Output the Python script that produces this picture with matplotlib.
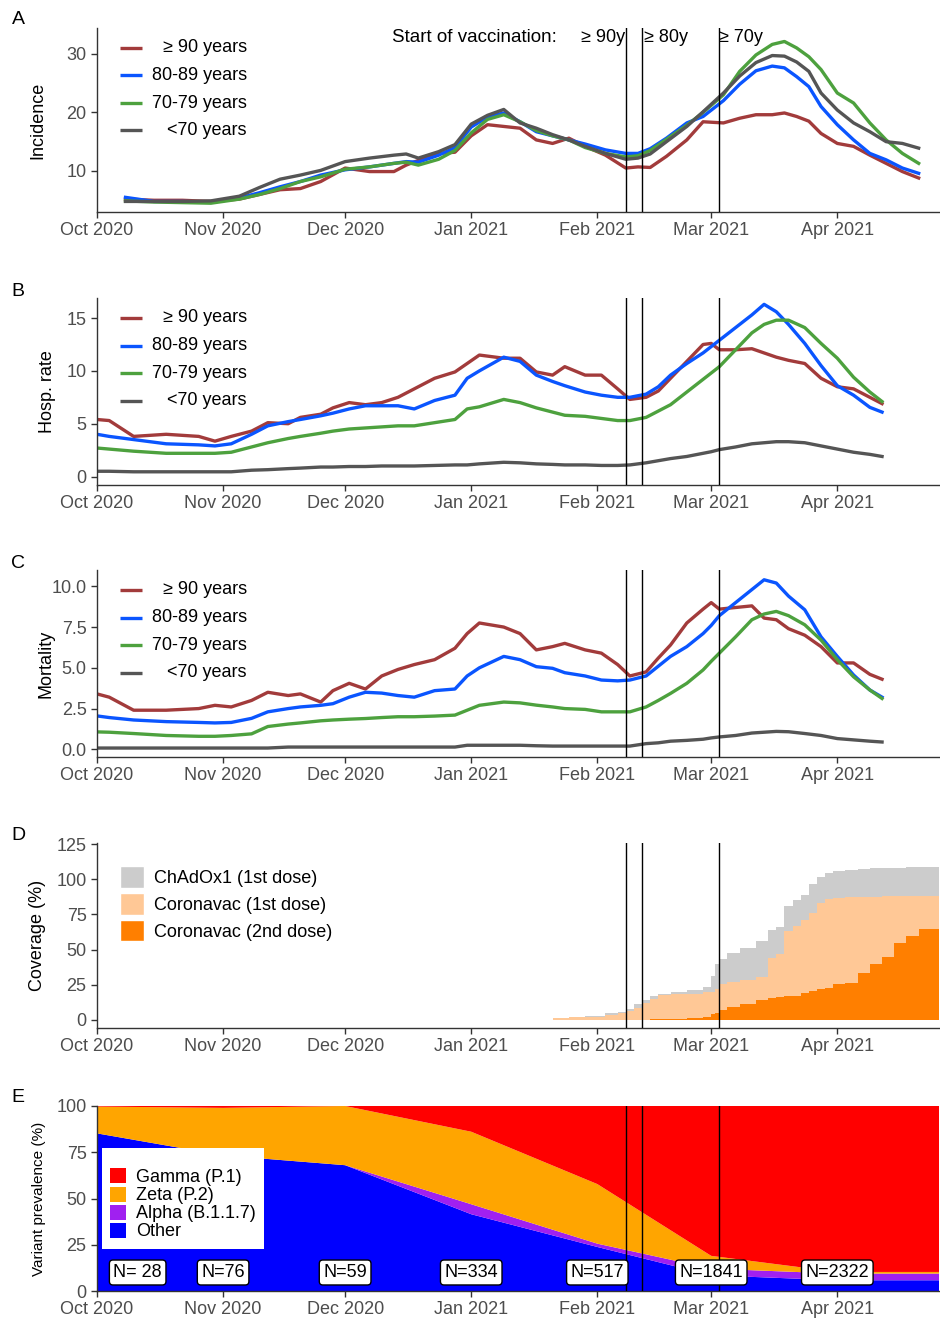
import pandas as pd
import matplotlib
matplotlib.use('Agg')
import matplotlib.pyplot as plt
from matplotlib.patches import Patch

plt.rcParams['font.family'] = ['Liberation Sans', 'DejaVu Sans']

# 日付の基準
START = pd.Timestamp('2020-10-01')
X_END = pd.Timestamp('2021-04-26')


def to_dates(day_list):
    return START + pd.to_timedelta(day_list, unit='D')


# ---- 年齢別の系列 ----
age_labels = ['\u2265 90 years', '80-89 years', '70-79 years', '<70 years']
age_colors = ['#A23B3B', '#0A55FF', '#4DA13E', '#555555']

# A: Incidence (days since 1 Oct 2020)
inc_days = [7, 14, 21, 28, 35, 40, 45, 50, 55, 61, 67, 73, 76, 79, 84,
            88, 92, 96, 100, 104, 108, 112, 116, 120, 125, 130, 133, 136, 140, 145,
            149, 154, 158, 162, 166, 169, 172, 175, 178, 182, 186, 190, 194, 198, 202]
inc_90 = [5.2, 5.0, 5.0, 4.8, 5.2, 6.0, 6.8, 7.0, 8.2, 10.5, 9.9, 9.9, 11.0, 11.8, 13.0,
          13.2, 16.0, 17.9, 17.6, 17.3, 15.3, 14.7, 15.6, 14.2, 12.7, 10.5, 10.7, 10.6, 12.5, 15.3,
          18.4, 18.2, 19.0, 19.6, 19.6, 19.9, 19.3, 18.5, 16.4, 14.7, 14.2, 12.7, 11.3, 9.9, 8.8]
inc_80 = [5.5, 4.8, 4.8, 4.7, 5.4, 6.3, 7.3, 8.2, 9.3, 10.2, 10.7, 11.3, 11.6, 11.5, 12.7,
          14.0, 17.5, 19.2, 19.9, 18.4, 16.7, 16.0, 15.3, 14.6, 13.6, 13.0, 13.0, 13.8, 15.6, 18.2,
          19.3, 22.0, 24.8, 27.1, 27.9, 27.6, 26.1, 24.4, 21.0, 17.9, 15.3, 13.0, 11.9, 10.5, 9.6]
inc_70 = [4.9, 4.7, 4.6, 4.5, 5.2, 6.0, 7.0, 8.2, 9.0, 10.3, 10.7, 11.3, 11.5, 11.0, 12.0,
          13.5, 16.5, 18.8, 19.6, 18.4, 16.9, 16.0, 15.3, 14.0, 13.0, 12.4, 12.6, 13.5, 15.4, 17.8,
          20.0, 23.0, 27.0, 29.8, 31.6, 32.1, 31.0, 29.5, 27.3, 23.3, 21.6, 18.2, 15.3, 13.0, 11.3]
inc_lt70 = [4.8, 4.8, 4.8, 4.9, 5.7, 7.2, 8.6, 9.3, 10.1, 11.6, 12.2, 12.7, 12.9, 12.2, 13.3,
            14.5, 18.0, 19.5, 20.5, 18.2, 17.3, 16.2, 15.3, 14.2, 13.0, 12.0, 12.2, 12.9, 15.0, 17.6,
            20.1, 23.3, 26.2, 28.5, 29.7, 29.6, 28.6, 27.0, 23.3, 20.4, 18.2, 16.7, 15.0, 14.7, 13.9]

# B / C: Hospitalisation and mortality
bc_days = [0, 3, 9, 17, 25, 29, 33, 38, 42, 47, 50, 55, 58, 62, 66, 70, 74, 78, 83, 88,
           91, 94, 100, 104, 108, 112, 115, 120, 124, 128, 131, 135, 138, 141, 145,
           149, 151, 153, 157, 161, 164, 167, 170, 174, 178, 182, 186, 190, 193]
hosp_90 = [5.4, 5.3, 3.8, 4.0, 3.8, 3.35, 3.8, 4.3, 5.1, 5.0, 5.6, 5.9, 6.5, 7.0, 6.8,
           7.0, 7.5, 8.3, 9.3, 9.9, 10.7, 11.5, 11.2, 11.2, 9.9, 9.6, 10.4, 9.6, 9.6, 8.3,
           7.3, 7.5, 8.1, 9.3, 10.9, 12.5, 12.6, 12.0, 12.0, 12.1, 11.7, 11.3, 11.0, 10.7, 9.3,
           8.5, 8.3, 7.5, 6.9]
hosp_80 = [4.0, 3.8, 3.5, 3.1, 3.0, 2.9, 3.1, 4.0, 4.8, 5.2, 5.4, 5.75, 6.0, 6.4, 6.7,
           6.7, 6.7, 6.4, 7.2, 7.7, 9.3, 10.0, 11.3, 10.9, 9.6, 9.0, 8.6, 8.0, 7.7, 7.5,
           7.5, 7.8, 8.5, 9.6, 10.7, 11.7, 12.3, 12.9, 14.1, 15.3, 16.3, 15.6, 14.4, 12.6, 10.5,
           8.6, 7.7, 6.55, 6.1]
hosp_70 = [2.7, 2.6, 2.4, 2.2, 2.2, 2.2, 2.3, 2.8, 3.2, 3.6, 3.8, 4.1, 4.3, 4.5, 4.6,
           4.7, 4.8, 4.8, 5.1, 5.4, 6.4, 6.6, 7.3, 7.0, 6.5, 6.1, 5.8, 5.7, 5.5, 5.3,
           5.3, 5.6, 6.2, 6.8, 8.0, 9.2, 9.8, 10.4, 12.0, 13.6, 14.4, 14.8, 14.8, 14.1, 12.6,
           11.2, 9.4, 8.0, 7.1]
hosp_lt70 = [0.5, 0.5, 0.45, 0.45, 0.45, 0.45, 0.45, 0.6, 0.65, 0.75, 0.8, 0.9, 0.9, 0.95, 0.95,
             1.0, 1.0, 1.0, 1.05, 1.1, 1.1, 1.2, 1.35, 1.3, 1.2, 1.15, 1.1, 1.1, 1.05, 1.05,
             1.1, 1.3, 1.5, 1.7, 1.9, 2.2, 2.35, 2.55, 2.8, 3.1, 3.2, 3.3, 3.3, 3.2, 2.9,
             2.6, 2.3, 2.1, 1.9]

mort_90 = [3.4, 3.2, 2.4, 2.4, 2.5, 2.7, 2.6, 3.0, 3.5, 3.3, 3.4, 2.9, 3.6, 4.05, 3.7,
           4.5, 4.9, 5.2, 5.5, 6.2, 7.1, 7.75, 7.5, 7.1, 6.1, 6.3, 6.5, 6.1, 5.9, 5.2,
           4.5, 4.75, 5.6, 6.4, 7.75, 8.6, 9.0, 8.6, 8.7, 8.8, 8.05, 7.95, 7.4, 7.0, 6.3,
           5.3, 5.3, 4.6, 4.3]
mort_80 = [2.05, 1.95, 1.8, 1.7, 1.65, 1.62, 1.65, 1.9, 2.3, 2.5, 2.6, 2.7, 2.8, 3.2, 3.5,
           3.45, 3.3, 3.2, 3.6, 3.7, 4.5, 5.0, 5.7, 5.5, 5.07, 4.97, 4.7, 4.5, 4.25, 4.2,
           4.25, 4.5, 5.1, 5.7, 6.3, 7.1, 7.6, 8.2, 9.0, 9.8, 10.4, 10.2, 9.4, 8.56, 6.9,
           5.7, 4.56, 3.64, 3.2]
mort_70 = [1.07, 1.05, 0.97, 0.85, 0.8, 0.8, 0.85, 0.95, 1.4, 1.55, 1.62, 1.75, 1.8, 1.85, 1.89,
           1.95, 2.0, 2.0, 2.04, 2.1, 2.4, 2.7, 2.9, 2.85, 2.71, 2.6, 2.5, 2.45, 2.3, 2.3,
           2.3, 2.6, 3.0, 3.43, 4.05, 4.87, 5.4, 5.9, 6.9, 7.95, 8.3, 8.46, 8.2, 7.64, 6.7,
           5.5, 4.45, 3.64, 3.12]
mort_lt70 = [0.08, 0.08, 0.08, 0.08, 0.08, 0.08, 0.08, 0.08, 0.08, 0.14, 0.14, 0.14, 0.14, 0.14, 0.14,
             0.14, 0.14, 0.14, 0.14, 0.14, 0.25, 0.25, 0.25, 0.25, 0.22, 0.2, 0.2, 0.2, 0.2, 0.2,
             0.2, 0.35, 0.4, 0.5, 0.55, 0.62, 0.7, 0.76, 0.85, 1.0, 1.05, 1.1, 1.08, 0.97, 0.85,
             0.66, 0.58, 0.5, 0.45]

# D: vaccine coverage (%), step data
cov_days = [112, 116, 120, 125, 128, 130, 132, 134, 136, 138, 141, 145, 149, 151, 152,
            153, 155, 158, 162, 165, 167, 169, 171, 173, 175, 177, 179, 181, 184, 187,
            190, 193, 196, 199, 202, 207]
cov_chadox = [0.0, 0.3, 0.5, 1.0, 1.0, 1.5, 2.5, 2.0, 2.0, 1.0, 2.0, 2.5, 3.5, 11.0, 18.0,
              17.5, 20.5, 22.5, 25.5, 20.0, 19.0, 18.0, 18.0, 18.0, 21.0, 19.0, 18.5, 19.0, 19.5, 20.0,
              20.2, 20.3, 20.5, 21.0, 21.0, 21.0]
cov_cv1 = [1.0, 1.5, 2.0, 3.5, 4.5, 6.0, 8.5, 12.0, 14.5, 17.5, 18.0, 18.5, 19.5, 20.0, 22.0,
           25.5, 27.0, 28.5, 30.5, 44.0, 47.0, 63.0, 67.0, 71.0, 76.0, 83.0, 86.0, 87.0, 87.5, 87.5,
           87.8, 88.0, 88.0, 88.0, 88.0, 88.0]
cov_cv2 = [0.0, 0.0, 0.0, 0.0, 0.0, 0.0, 0.0, 0.0, 0.3, 0.3, 0.5, 1.0, 1.5, 4.0, 5.0,
           6.5, 9.0, 11.0, 14.0, 15.5, 16.0, 16.5, 17.0, 19.0, 20.5, 21.5, 22.5, 25.5, 26.0, 33.0,
           40.0, 45.0, 55.0, 60.0, 64.5, 65.0]
cov_labels = ['ChAdOx1 (1st dose)', 'Coronavac (1st dose)', 'Coronavac (2nd dose)']
cov_colors = ['#CCCCCC', '#FFC896', '#FF7F00']

# E: variant prevalence (%)
var_dates = pd.to_datetime(['2020-10-01', '2020-11-01', '2020-12-01', '2021-01-01',
                            '2021-02-01', '2021-03-01', '2021-04-01', '2021-04-26'])
var_other = [85.2, 73.3, 68.0, 41.5, 23.8, 8.5, 5.8, 5.8]
var_alpha = [0.0, 0.0, 0.0, 5.4, 1.8, 3.6, 3.6, 3.6]
var_zeta = [14.5, 25.7, 32.0, 39.2, 32.2, 6.9, 0.9, 0.9]
var_gamma = [0.3, 1.0, 0.0, 13.9, 42.2, 81.0, 89.7, 89.7]
var_labels = ['Gamma (P.1)', 'Zeta (P.2)', 'Alpha (B.1.1.7)', 'Other']
var_colors = ['#FF0000', '#FFA500', '#A020F0', '#0000FF']
n_dates = pd.to_datetime(['2020-10-11', '2020-11-01', '2020-12-01', '2021-01-01',
                          '2021-02-01', '2021-03-01', '2021-04-01'])
n_labels = ['N= 28', 'N=76', 'N=59', 'N=334', 'N=517', 'N=1841', 'N=2322']

# 接種開始日
vax_dates = pd.to_datetime(['2021-02-08', '2021-02-12', '2021-03-03'])
vax_labels = ['\u2265 90y', '\u2265 80y', '\u2265 70y']

month_ticks = pd.date_range('2020-10-01', '2021-04-01', freq='MS')

# ---- figure ----
W, H = 940, 1318
fig = plt.figure(figsize=(W / 100, H / 100), dpi=100)


def make_ax(top, bottom):
    return fig.add_axes([97 / W, 1 - bottom / H, 842 / W, (bottom - top) / H])


def style(ax, ylabel, label_x, label_size=13):
    for s in ['top', 'right']:
        ax.spines[s].set_visible(False)
    for s in ['left', 'bottom']:
        ax.spines[s].set_color('#333333')
        ax.spines[s].set_linewidth(1.0)
    ax.set_xlim(START, X_END)
    ax.set_xticks(month_ticks)
    ax.set_xticklabels([d.strftime('%b %Y') for d in month_ticks])
    ax.tick_params(labelsize=13, labelcolor='#4D4D4D', color='#333333', length=4, width=1)
    ax.set_ylabel(ylabel, fontsize=label_size)
    ax.yaxis.set_label_coords(label_x, 0.5)
    for d in vax_dates:
        ax.axvline(d, color='black', lw=1.0, zorder=5)


def age_legend(ax):
    h_px = ax.get_position().height * H
    for i, (lab, col) in enumerate(zip(age_labels, age_colors)):
        y = 1 - (20 + 27.5 * i) / h_px
        ax.plot([0.027, 0.053], [y, y], transform=ax.transAxes, color=col, lw=2.4,
                solid_capstyle='butt')
        ax.text(0.178, y, lab, transform=ax.transAxes, ha='right', va='center', fontsize=13)


line_panels = [
    (28, 212, inc_days, [inc_90, inc_80, inc_70, inc_lt70], 'Incidence', (3.0, 34.4),
     [10, 20, 30], ['10', '20', '30'], -0.0606),
    (298, 485, bc_days, [hosp_90, hosp_80, hosp_70, hosp_lt70], 'Hosp. rate', (-0.8, 16.9),
     [0, 5, 10, 15], ['0', '5', '10', '15'], -0.0487),
    (570, 757, bc_days, [mort_90, mort_80, mort_70, mort_lt70], 'Mortality', (-0.47, 11.0),
     [0, 2.5, 5, 7.5, 10], ['0.0', '2.5', '5.0', '7.5', '10.0'], -0.050),
]

axes = []
for top, bottom, dd, series, ylab, ylim, yt, ytl, lx in line_panels:
    ax = make_ax(top, bottom)
    x = to_dates(dd)
    for vals, col in zip(series, age_colors):
        ax.plot(x, vals, color=col, lw=2.4, solid_joinstyle='round')
    style(ax, ylab, lx)
    ax.set_ylim(*ylim)
    ax.set_yticks(yt)
    ax.set_yticklabels(ytl)
    age_legend(ax)
    axes.append(ax)

# 接種開始のラベル
axA = axes[0]
ytxt = 0.95
axA.text(0.546, ytxt, 'Start of vaccination:', transform=axA.transAxes, ha='right',
         va='center', fontsize=13.5)
axA.text(vax_dates[0] - pd.Timedelta(hours=2), ytxt, vax_labels[0],
         transform=axA.get_xaxis_transform(), ha='right', va='center', fontsize=13)
axA.text(vax_dates[1] + pd.Timedelta(hours=12), ytxt, vax_labels[1],
         transform=axA.get_xaxis_transform(), ha='left', va='center', fontsize=13)
axA.text(vax_dates[2] - pd.Timedelta(hours=4), ytxt, vax_labels[2],
         transform=axA.get_xaxis_transform(), ha='left', va='center', fontsize=13)

# D: coverage
axD = make_ax(843, 1028)
xc = to_dates(cov_days)
total = [a + b for a, b in zip(cov_chadox, cov_cv1)]
axD.fill_between(xc, 0, total, step='post', color=cov_colors[0], lw=0)
axD.fill_between(xc, 0, cov_cv1, step='post', color=cov_colors[1], lw=0)
axD.fill_between(xc, 0, cov_cv2, step='post', color=cov_colors[2], lw=0)
style(axD, 'Coverage (%)', -0.0606)
axD.set_ylim(-6, 126)
axD.set_yticks([0, 25, 50, 75, 100, 125])
handles = [Patch(facecolor=c, edgecolor='white', lw=1) for c in cov_colors]
axD.legend(handles, cov_labels, loc='upper left', bbox_to_anchor=(0.027, 0.874),
           frameon=False, fontsize=13, handlelength=1.35, handleheight=1.45,
           handletextpad=0.55, labelspacing=0.3, borderpad=0, borderaxespad=0)

# E: variants
axE = make_ax(1106, 1291)
axE.stackplot(var_dates, var_other, var_alpha, var_zeta, var_gamma,
              colors=var_colors[::-1], lw=0)
style(axE, 'Variant prevalence (%)', -0.061, label_size=11)
axE.set_ylim(0, 100)
axE.set_yticks([0, 25, 50, 75, 100])
handles = [Patch(facecolor=c, edgecolor='none') for c in var_colors]
leg = axE.legend(handles, var_labels, loc='upper left', bbox_to_anchor=(0.006, 0.773),
                 fontsize=13, handlelength=0.9, handleheight=0.9, handletextpad=0.55,
                 labelspacing=0.02, borderpad=0.45, borderaxespad=0, fancybox=False,
                 framealpha=1, title=' ', title_fontsize=9.5)
leg.get_frame().set_edgecolor('none')
leg.get_frame().set_facecolor('white')
leg.set_zorder(6)
for d, lab in zip(n_dates, n_labels):
    axE.text(d, 10, lab, ha='center', va='center', fontsize=13, zorder=7,
             bbox=dict(boxstyle='round,pad=0.22,rounding_size=0.2', fc='white',
                       ec='black', lw=1))

# パネル記号
for letter, ypx in zip('ABCDE', [19, 291, 563, 835, 1098]):
    fig.text(18 / W, 1 - ypx / H, letter, fontsize=14, ha='center', va='center')

fig.savefig('out.png', dpi=100)
